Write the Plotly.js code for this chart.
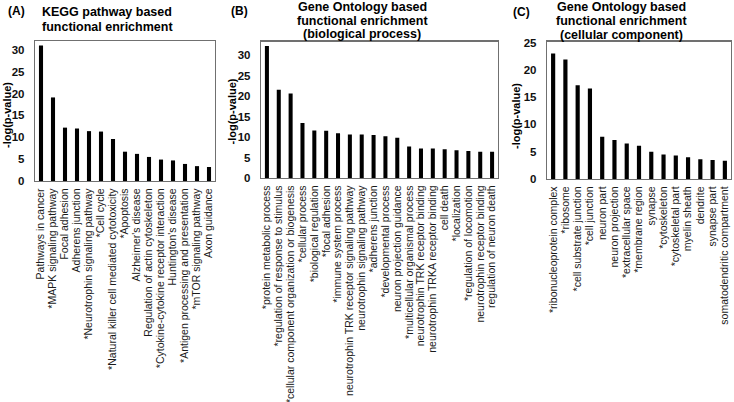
<!DOCTYPE html>
<html><head><meta charset="utf-8">
<script src="https://cdn.plot.ly/plotly-3.0.1.min.js"></script>
<style>html,body{margin:0;padding:0;background:#fff}#chart{width:734px;height:402px}</style>
</head><body><div id="chart"></div>
<script>
const keggTerms = ["Pathways in cancer","*MAPK signaling pathway","Focal adhesion","Adherens junction","*Neurotrophin signaling pathway","*Cell cycle","*Natural killer cell mediated cytotoxicity","*Apoptosis","Alzheimer's disease","Regulation of actin cytoskeleton","*Cytokine-cytokine receptor interaction","Huntington's disease","*Antigen processing and presentation","*mTOR signaling pathway","Axon guidance"];
const keggValues = [31.0,19.1,12.2,12.0,11.4,11.3,9.6,6.7,6.2,5.5,4.9,4.7,3.9,3.4,3.2];

const bpTerms = ["*protein metabolic process","*regulation of response to stimulus","*cellular component organization or biogenesis","*cellular process","*biological regulation","*focal adhesion","*immune system process","neurotrophin TRK receptor signaling pathway","neurotrophin signaling pathway","*adherens junction","*developmental process","neuron projection guidance","*multicellular organismal process","neurotrophin TRK receptor binding","neurotrophin TRKA receptor binding","cell death","*localization","*regulation of locomotion","neurotrophin receptor binding","regulation of neuron death"];
const bpValues = [32.2,21.5,20.6,13.4,11.6,11.5,10.9,10.6,10.6,10.5,10.2,9.8,7.7,7.2,7.2,7.0,6.8,6.6,6.4,6.4];

const ccTerms = ["*ribonucleoprotein complex","*ribosome","*cell substrate junction","*cell junction","neuron part","neuron projection","*extracellular space","*membrane region","synapse","*cytoskeleton","*cytoskeletal part","myelin sheath","dendrite","synapse part","somatodendritic compartment"];
const ccValues = [23.0,21.9,17.2,16.6,7.75,7.15,6.5,6.1,5.0,4.5,4.3,4.0,3.6,3.5,3.35];

const W = 734, H = 402;
const FONT = "Liberation Sans, Arial, sans-serif";
const px = v => v / W;
const py = v => (H - v) / H;

function bar(x, y, xa, ya) {
  return {type: "bar", x: x, y: y, xaxis: xa, yaxis: ya, width: 0.34,
    marker: {color: "#000", line: {width: 0}}, hoverinfo: "skip", showlegend: false};
}
function xax(domain, terms, anchor) {
  return {domain: domain, anchor: anchor, type: "category", tickangle: -90, showline: true, mirror: true,
    linecolor: "#707070", linewidth: 1.2, showgrid: false, zeroline: false, ticks: "",
    tickmode: "array", tickvals: terms, ticktext: terms,
    ticklabelstandoff: 2, range: [-0.5, terms.length - 0.5],
    tickfont: {family: FONT, size: 10.5, color: "#1a1a1a"}, automargin: false, fixedrange: true};
}
function yax(domain, range, anchor) {
  return {domain: domain, range: range, anchor: anchor, showline: true, mirror: true,
    linecolor: "#707070", linewidth: 1.2, showgrid: false, zeroline: false, ticks: "",
    tickmode: "linear", dtick: 5, tick0: 0, ticklabelstandoff: 7,
    tickfont: {family: FONT, size: 11.5, color: "#111", weight: "bold"}, automargin: false, fixedrange: true};
}

const data = [
  bar(keggTerms, keggValues, "x", "y"),
  bar(bpTerms, bpValues, "x2", "y2"),
  bar(ccTerms, ccValues, "x3", "y3")
];

function ann(text, x, y, xanchor, size, angle) {
  return {text: text, x: px(x), y: py(y), xanchor: xanchor, yanchor: "middle", xref: "paper", yref: "paper",
    showarrow: false, textangle: angle || 0, font: {family: FONT, size: size, color: "#000", weight: "bold"}};
}

const layout = {
  width: W, height: H, margin: {l: 0, r: 0, t: 0, b: 0},
  paper_bgcolor: "#fff", plot_bgcolor: "#fff",
  xaxis: xax([px(35), px(215)], keggTerms, "y"),
  yaxis: yax([py(181), py(41)], [0, 32], "x"),
  xaxis2: xax([px(261), px(498)], bpTerms, "y2"),
  yaxis2: yax([py(178), py(41.5)], [0, 33.3], "x2"),
  xaxis3: xax([px(547), px(731)], ccTerms, "y3"),
  yaxis3: yax([py(179), py(41.5)], [0, 25.2], "x3"),
  annotations: [
    ann("(A)", 6, 11, "left", 12),
    ann("KEGG pathway based", 40, 12, "left", 12.5),
    ann("functional enrichment", 40, 27, "left", 12.5),
    ann("(B)", 229, 11, "left", 12),
    ann("Gene Ontology based", 362, 7, "center", 12.5),
    ann("functional enrichment", 362, 20.5, "center", 12.5),
    ann("(biological process)", 362, 34.5, "center", 12.5),
    ann("(C)", 511, 12, "left", 12),
    ann("Gene Ontology based", 621, 7.5, "center", 12.5),
    ann("functional enrichment", 621, 21, "center", 12.5),
    ann("(cellular component)", 621, 35, "center", 12.5),
    ann("-log(p-value)", 7, 115, "center", 11, -90),
    ann("-log(p-value)", 231.5, 112, "center", 11, -90),
    ann("-log(p-value)", 516, 116, "center", 11, -90)
  ]
};

Plotly.newPlot("chart", data, layout, {staticPlot: true, displayModeBar: false});
</script>
</body></html>
